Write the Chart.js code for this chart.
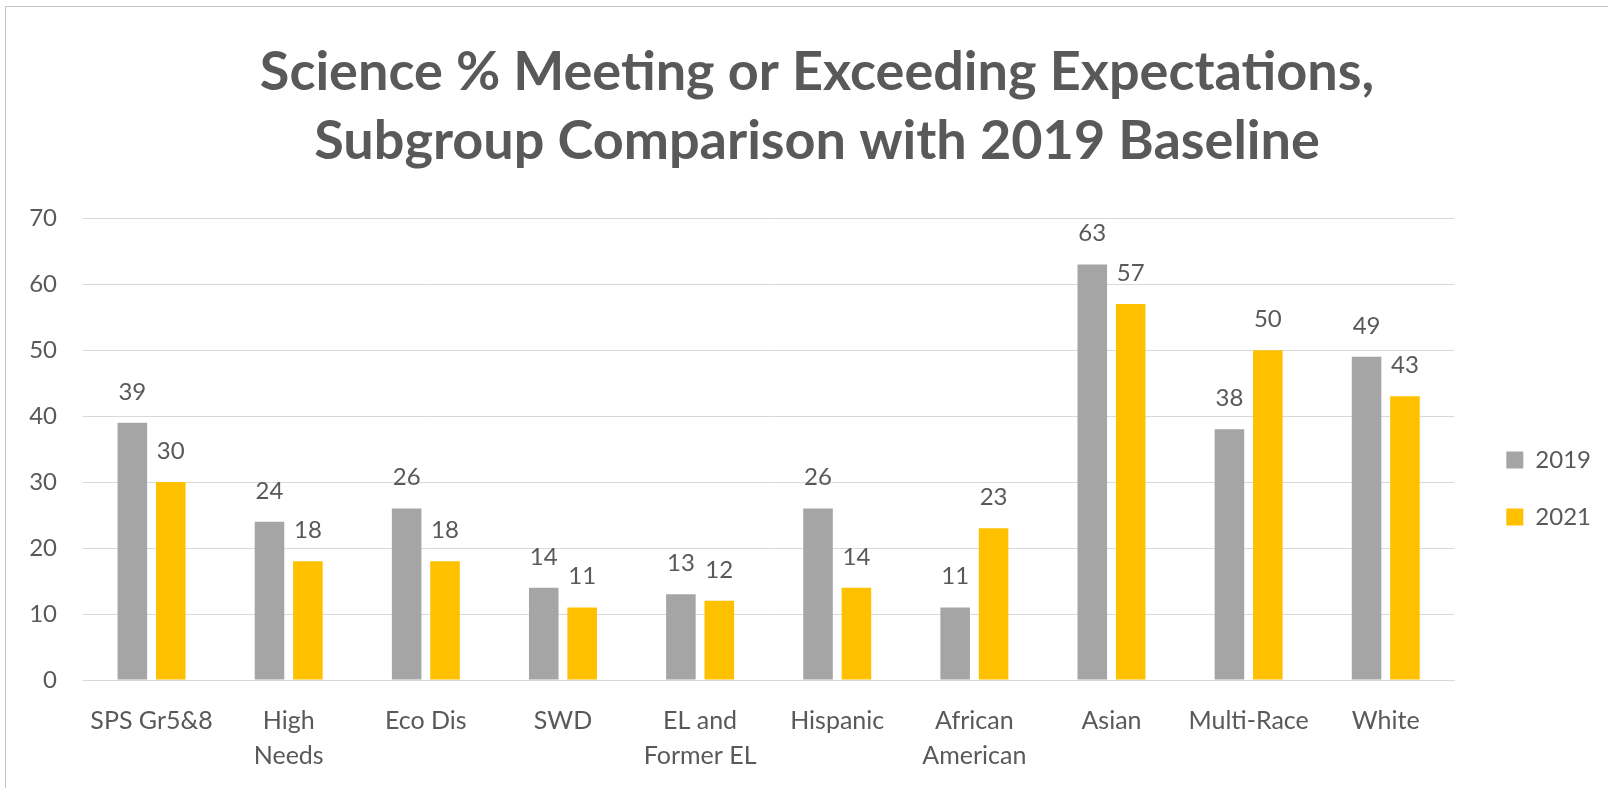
<!DOCTYPE html>
<html>
<head>
<meta charset="utf-8">
<title>Science % Meeting or Exceeding Expectations</title>
<script src="https://cdn.jsdelivr.net/npm/chart.js@4.4.1/dist/chart.umd.min.js"></script>
<style>
    html, body { margin: 0; padding: 0; background: #fff; overflow: hidden; }
    #frame {
        position: absolute; left: 5px; top: 6px;
        width: 1700px; height: 900px;
        border: 1px solid #c4c4c4;
    }
    #chart { position: absolute; left: 0; top: 0; }
</style>
</head>
<body>
<div id="frame"></div>
<canvas id="chart" width="1608" height="788"></canvas>
<script>
// ========== DATA ==========
const categories = [
    'SPS Gr5&8', ['High', 'Needs'], 'Eco Dis', 'SWD', ['EL and', 'Former EL'],
    'Hispanic', ['African', 'American'], 'Asian', 'Multi-Race', 'White'
];
const seriesNames = ['2019', '2021'];
const values2019 = [39, 24, 26, 14, 13, 26, 11, 63, 38, 49];
const values2021 = [30, 18, 18, 11, 12, 14, 23, 57, 50, 43];
const yTicks = [0, 10, 20, 30, 40, 50, 60, 70];

const titleLines = [
    'Science % Meeting or Exceeding Expectations,',
    'Subgroup Comparison with 2019 Baseline'
];

const TEXT = '#595959';
const GRID = '#d9d9d9';
const FONT = 'Lato';

/**
 * Etiquetas de valor encima de cada barra
 */
const barValueLabels = {
    id: 'barValueLabels',
    afterDatasetsDraw(chart) {
        const ctx = chart.ctx;
        ctx.save();
        ctx.font = '24px ' + FONT;
        ctx.fillStyle = TEXT;
        ctx.textAlign = 'center';
        ctx.textBaseline = 'alphabetic';
        chart.data.datasets.forEach((ds, i) => {
            const meta = chart.getDatasetMeta(i);
            meta.data.forEach((bar, j) => {
                ctx.fillText(String(ds.data[j]), bar.x, bar.y - 23);
            });
        });
        ctx.restore();
    }
};

/**
 * Separar la leyenda del área del gráfico
 */
const legendGap = { extra: 23, dx: 19, dy: 102 };
const legendSpacer = {
    id: 'legendSpacer',
    beforeInit(chart) {
        const fit = chart.legend.fit;
        chart.legend.fit = function () {
            fit.call(this);
            this.width += legendGap.extra;
        };
    },
    afterLayout(chart) {
        const lg = chart.legend;
        lg.left += legendGap.dx;
        lg.right += legendGap.dx;
        lg.top += legendGap.dy;
        lg.bottom += legendGap.dy;
    }
};

function buildChart() {
    const ctx = document.getElementById('chart');
    new Chart(ctx, {
        type: 'bar',
        data: {
            labels: categories,
            datasets: [{
                label: seriesNames[0],
                data: values2019,
                backgroundColor: '#a5a5a5',
                categoryPercentage: 0.56,
                barPercentage: 0.77
            }, {
                label: seriesNames[1],
                data: values2021,
                backgroundColor: '#ffc000',
                categoryPercentage: 0.56,
                barPercentage: 0.77
            }]
        },
        options: {
            responsive: false,
            animation: false,
            layout: { padding: { left: 29, right: 3, top: 0, bottom: 15 } },
            scales: {
                x: {
                    grid: { display: false, drawTicks: false },
                    border: { color: GRID, width: 1 },
                    ticks: {
                        color: TEXT,
                        font: { family: FONT, size: 25, lineHeight: 1.4 },
                        padding: 23,
                        maxRotation: 0,
                        autoSkip: false
                    },
                    afterFit(scale) { scale.height = 93; }
                },
                y: {
                    min: 0,
                    max: yTicks[yTicks.length - 1],
                    afterBuildTicks(scale) {
                        scale.ticks = yTicks.map(v => ({ value: v }));
                    },
                    grid: { color: GRID, lineWidth: 1, drawTicks: false },
                    border: { display: false },
                    ticks: {
                        color: TEXT,
                        font: { family: FONT, size: 24 },
                        padding: 26
                    },
                    afterFit(scale) { scale.width = 54; }
                }
            },
            plugins: {
                title: {
                    display: true,
                    text: titleLines,
                    color: TEXT,
                    font: { family: FONT, size: 54, weight: 'bold', lineHeight: 1.28 },
                    padding: { top: 38, bottom: 42 }
                },
                legend: {
                    position: 'right',
                    labels: {
                        color: TEXT,
                        font: { family: FONT, size: 24 },
                        boxWidth: 17,
                        boxHeight: 17,
                        padding: 33
                    }
                },
                tooltip: { enabled: false }
            }
        },
        plugins: [barValueLabels, legendSpacer]
    });
}

document.fonts.load('24px ' + FONT).then(buildChart, buildChart);
</script>
</body>
</html>
